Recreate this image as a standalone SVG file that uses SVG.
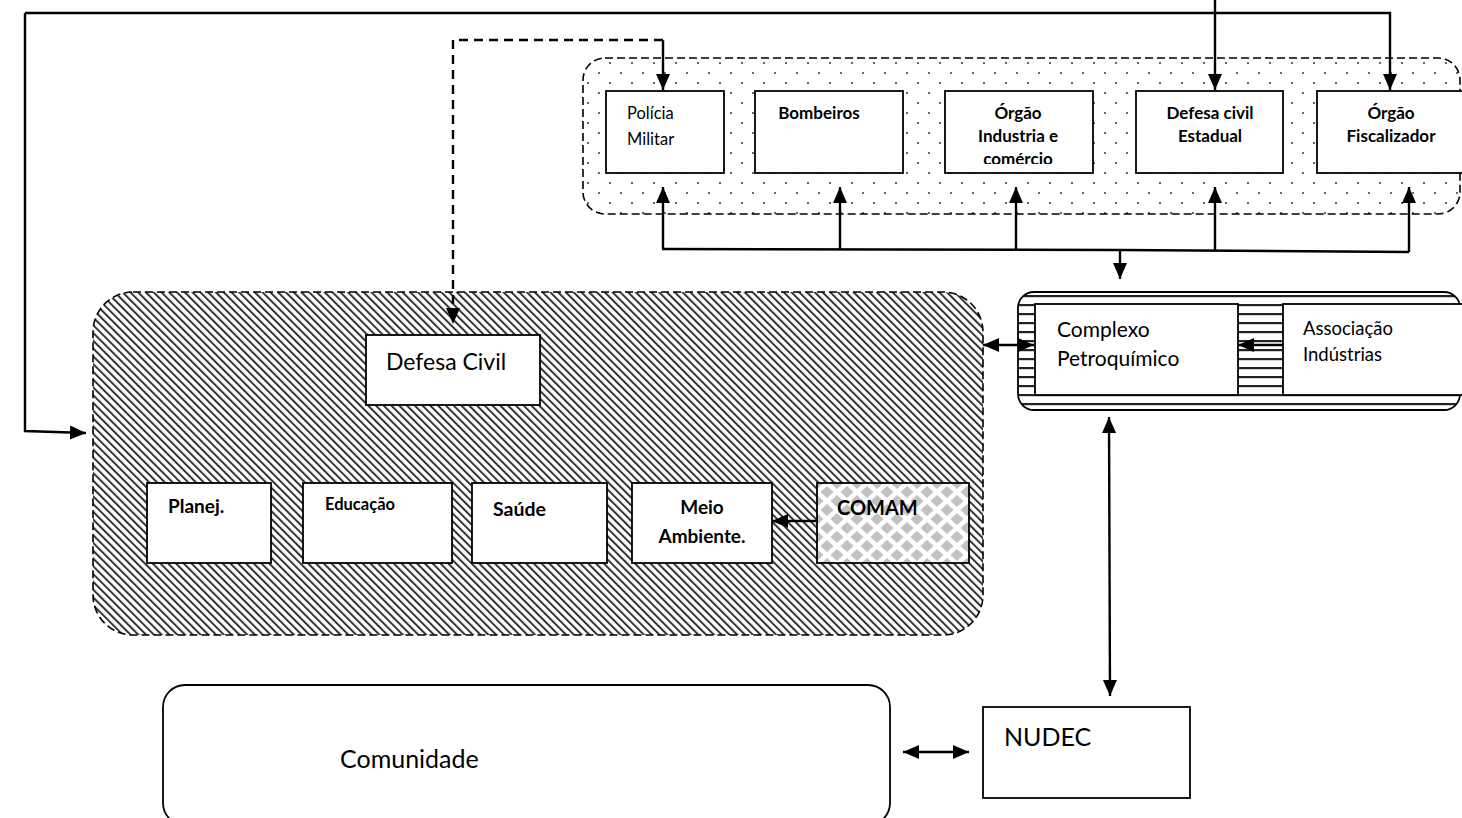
<svg xmlns="http://www.w3.org/2000/svg" width="1462" height="818" viewBox="0 0 1462 818">
  <defs>
    <style>
      .box { fill: #fff; stroke: #000; stroke-width: 1.8; }
      .group { stroke: #000; stroke-width: 1.6; stroke-dasharray: 8 4; }
      .conn { fill: none; stroke: #000; stroke-width: 2.4; }
      .dash { stroke-dasharray: 9 6; }
      .t { font-family: Lato, "Liberation Sans", sans-serif; fill: #000; }
      .b { font-weight: bold; }
      .mid { text-anchor: middle; }
    </style>
    <marker id="arr" markerUnits="userSpaceOnUse" markerWidth="18" markerHeight="16" refX="16" refY="7" orient="auto-start-reverse">
      <path d="M0,0 L16,7 L0,14 z" fill="#000"/>
    </marker>
    <!-- diagonal hatching for the municipal group -->
    <pattern id="hatch" width="5.5" height="5.5" patternUnits="userSpaceOnUse" patternTransform="rotate(-45)">
      <rect width="5.5" height="5.5" fill="#fff"/>
      <rect width="2" height="5.5" fill="#333"/>
    </pattern>
    <!-- dotted fill for the agencies group -->
    <pattern id="dots" width="22" height="20" patternUnits="userSpaceOnUse" x="583" y="58">
      <rect width="22" height="20" fill="#fff"/>
      <circle cx="5" cy="5" r="1.1" fill="#444"/>
      <circle cx="16" cy="15" r="1.1" fill="#444"/>
    </pattern>
    <!-- horizontal stripes for the industry group -->
    <pattern id="stripes" width="9" height="9" patternUnits="userSpaceOnUse" y="292">
      <rect width="9" height="9" fill="#fff"/>
      <rect y="3" width="9" height="2.2" fill="#222"/>
    </pattern>
    <!-- grey diamonds for COMAM -->
    <pattern id="diamonds" width="20" height="18" patternUnits="userSpaceOnUse" x="817" y="483">
      <rect width="20" height="18" fill="#fff"/>
      <polygon points="10,3 16.5,9 10,15 3.5,9" fill="#c2c2c2"/>
      <polygon points="0,-6 6.5,0 0,6 -6.5,0" fill="#c2c2c2"/>
      <polygon points="20,-6 26.5,0 20,6 13.5,0" fill="#c2c2c2"/>
      <polygon points="0,12 6.5,18 0,24 -6.5,18" fill="#c2c2c2"/>
      <polygon points="20,12 26.5,18 20,24 13.5,18" fill="#c2c2c2"/>
    </pattern>
    <clipPath id="clipOrgao">
      <rect x="945" y="90" width="148" height="74"/>
    </clipPath>
  </defs>

  <rect width="1462" height="818" fill="#fff"/>

  <!-- state / regulatory agencies -->
  <g id="agencias">
    <rect x="583" y="58" width="877" height="156" rx="22" fill="url(#dots)" class="group"/>
  </g>
  <g id="policia-militar">
    <rect class="box" x="606" y="91" width="118" height="82"/>
    <text class="t" x="627" y="119" font-size="16.5">Polícia</text>
    <text class="t" x="627" y="145" font-size="16.5">Militar</text>
  </g>
  <g id="bombeiros">
    <rect class="box" x="755" y="91" width="148" height="82"/>
    <text class="t b mid" x="819" y="119" font-size="17">Bombeiros</text>
  </g>
  <g id="orgao-industria">
    <rect class="box" x="945" y="91" width="148" height="82"/>
    <g clip-path="url(#clipOrgao)">
      <text class="t b mid" x="1018" y="119" font-size="17">Órgão</text>
      <text class="t b mid" x="1018" y="142" font-size="17">Industria e</text>
      <text class="t b mid" x="1018" y="165" font-size="17">comércio</text>
    </g>
  </g>
  <g id="defesa-civil-estadual">
    <rect class="box" x="1136" y="91" width="147" height="82"/>
    <text class="t b mid" x="1210" y="119" font-size="17">Defesa civil</text>
    <text class="t b mid" x="1210" y="142" font-size="17">Estadual</text>
  </g>
  <g id="orgao-fiscalizador">
    <rect class="box" x="1317" y="91" width="160" height="82"/>
    <text class="t b mid" x="1391" y="119" font-size="17">Órgão</text>
    <text class="t b mid" x="1391" y="142" font-size="17">Fiscalizador</text>
  </g>

  <!-- municipal structure -->
  <g id="municipio">
    <rect x="93" y="292" width="890" height="343" rx="40" fill="url(#hatch)" class="group"/>
  </g>
  <g id="defesa-civil">
    <rect class="box" x="366" y="335" width="174" height="70"/>
    <text class="t" x="386" y="370" font-size="23">Defesa Civil</text>
  </g>
  <g id="planej">
    <rect class="box" x="147" y="483" width="124" height="80"/>
    <text class="t b" x="168" y="513" font-size="19">Planej.</text>
  </g>
  <g id="educacao">
    <rect class="box" x="303" y="483" width="149" height="80"/>
    <text class="t b" x="325" y="510" font-size="16.5">Educação</text>
  </g>
  <g id="saude">
    <rect class="box" x="472" y="483" width="135" height="80"/>
    <text class="t b" x="493" y="516" font-size="19.5">Saúde</text>
  </g>
  <g id="meio-ambiente">
    <rect class="box" x="632" y="483" width="140" height="80"/>
    <text class="t b mid" x="702" y="514" font-size="19">Meio</text>
    <text class="t b mid" x="702" y="543" font-size="19">Ambiente.</text>
  </g>
  <g id="comam">
    <rect x="817" y="483" width="152" height="80" fill="url(#diamonds)" stroke="#000" stroke-width="1.8"/>
    <text class="t b" x="837" y="515" font-size="20">COMAM</text>
  </g>

  <!-- industry -->
  <g id="industria">
    <rect x="1018" y="292" width="442" height="118" rx="16" fill="url(#stripes)" stroke="#000" stroke-width="1.8"/>
  </g>
  <g id="complexo-petroquimico">
    <rect class="box" x="1035" y="304" width="203" height="91"/>
    <text class="t" x="1057" y="337" font-size="21">Complexo</text>
    <text class="t" x="1057" y="366" font-size="21">Petroquímico</text>
  </g>
  <g id="associacao-industrias">
    <rect class="box" x="1283" y="304" width="190" height="91"/>
    <text class="t" x="1303" y="335" font-size="18.5">Associação</text>
    <text class="t" x="1303" y="361" font-size="18.5">Indústrias</text>
  </g>

  <!-- community -->
  <g id="nudec">
    <rect class="box" x="983" y="707" width="207" height="91"/>
    <text class="t" x="1004" y="746" font-size="25">NUDEC</text>
  </g>
  <g id="comunidade">
    <rect x="163" y="685" width="727" height="140" rx="22" fill="#fff" stroke="#000" stroke-width="1.8"/>
    <text class="t" x="340" y="768" font-size="25">Comunidade</text>
  </g>

  <!-- connectors -->
  <g id="connectors">
    <path class="conn" d="M25,13 L25,431 L86,433" marker-end="url(#arr)"/>
    <path class="conn" d="M25,13 L1390,13 L1390,90" marker-end="url(#arr)"/>
    <path class="conn" d="M1215,0 L1215,90" marker-end="url(#arr)"/>
    <path class="conn dash" d="M663,40 L453,40 L453,324" marker-end="url(#arr)"/>
    <path class="conn" d="M663,40 L663,90" marker-end="url(#arr)"/>

    <path class="conn" d="M662,249 L1120,250 L1409,252"/>
    <path class="conn" d="M663,249 L663,187" marker-end="url(#arr)"/>
    <path class="conn" d="M840,250 L840,187" marker-end="url(#arr)"/>
    <path class="conn" d="M1016,250 L1016,187" marker-end="url(#arr)"/>
    <path class="conn" d="M1215,251 L1215,187" marker-end="url(#arr)"/>
    <path class="conn" d="M1409,252 L1409,187" marker-end="url(#arr)"/>
    <path class="conn" d="M1120,251 L1120,279" marker-end="url(#arr)"/>

    <path class="conn" d="M983,345 L1034,345" marker-start="url(#arr)" marker-end="url(#arr)"/>
    <path class="conn" d="M1283,345 L1238,345" marker-end="url(#arr)"/>
    <path class="conn" d="M1109,417 L1110,696" marker-start="url(#arr)" marker-end="url(#arr)"/>
    <path class="conn" d="M903,752 L969,752" marker-start="url(#arr)" marker-end="url(#arr)"/>
    <path class="conn" d="M817,521 L772,521" marker-end="url(#arr)"/>
  </g>
</svg>
